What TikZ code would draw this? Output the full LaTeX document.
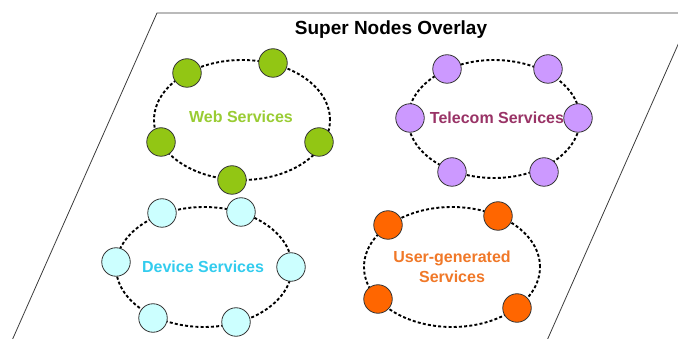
\documentclass[tikz,border=0pt]{standalone}
\usepackage{fontspec}
\setmainfont{Liberation Sans}
\usetikzlibrary{shapes.geometric}
\definecolor{webfill}{RGB}{146,198,20}
\definecolor{webtext}{RGB}{153,204,51}
\definecolor{telfill}{RGB}{204,153,255}
\definecolor{teltext}{RGB}{153,51,102}
\definecolor{devfill}{RGB}{204,255,255}
\definecolor{devtext}{RGB}{51,204,238}
\definecolor{usrfill}{RGB}{255,102,0}
\definecolor{usrtext}{RGB}{240,120,40}
\definecolor{edge}{RGB}{60,60,60}
\begin{document}
\begin{tikzpicture}[x=1pt,y=-1pt,
  ring/.style={ellipse, draw=black, line width=1.9pt, dash pattern=on 3pt off 2.2pt,
    inner sep=0pt, minimum width=#1},
  peer/.style={circle, draw=black!80, line width=0.8pt, fill=#1, minimum size=28.5pt, inner sep=0pt},
  lbl/.style={font=\bfseries\fontsize{16}{20}\selectfont, text=#1, align=center}]
\useasboundingbox (0,0) rectangle (678,339);
\clip (0,0) rectangle (678,339);
% overlay plane
\draw[edge, line width=0.8pt] (157,13) -- (692,13) -- (545,345) -- (10,345) -- cycle;
\node[font=\bfseries\fontsize{19}{22}\selectfont] (title) at (391,30) {Super Nodes Overlay};
% rings
\node[ring=176pt, minimum height=120pt] (webring) at (242,120) {};
\node[ring=172pt, minimum height=118pt] (telring) at (494,119) {};
\node[ring=176pt, minimum height=120pt] (devring) at (204,267) {};
\node[ring=176pt, minimum height=120pt] (usrring) at (452,267) {};
% labels
\node[lbl=webtext] (weblbl) at (241,117) {Web Services};
\node[lbl=teltext] (tellbl) at (497,118) {Telecom Services};
\node[lbl=devtext] (devlbl) at (203,267) {Device Services};
\node[lbl=usrtext] (usrlbl) at (452,267) {User-generated\\Services};
% web peers
\node[peer=webfill] (w1) at (187,73) {};
\node[peer=webfill] (w2) at (273,63) {};
\node[peer=webfill] (w3) at (161,142) {};
\node[peer=webfill] (w4) at (319,142) {};
\node[peer=webfill] (w5) at (232,180) {};
% telecom peers
\node[peer=telfill] (t1) at (447,69) {};
\node[peer=telfill] (t2) at (548,69) {};
\node[peer=telfill] (t3) at (410,118) {};
\node[peer=telfill] (t4) at (578,118) {};
\node[peer=telfill] (t5) at (452,172) {};
\node[peer=telfill] (t6) at (544,172) {};
% device peers
\node[peer=devfill] (d1) at (162,213) {};
\node[peer=devfill] (d2) at (241,212) {};
\node[peer=devfill] (d3) at (116,262) {};
\node[peer=devfill] (d4) at (291,267) {};
\node[peer=devfill] (d5) at (153,318) {};
\node[peer=devfill] (d6) at (236,322) {};
% user-generated peers
\node[peer=usrfill] (u1) at (388,225) {};
\node[peer=usrfill] (u2) at (498,216) {};
\node[peer=usrfill] (u3) at (378,299) {};
\node[peer=usrfill] (u4) at (517,308) {};
\end{tikzpicture}
\end{document}
